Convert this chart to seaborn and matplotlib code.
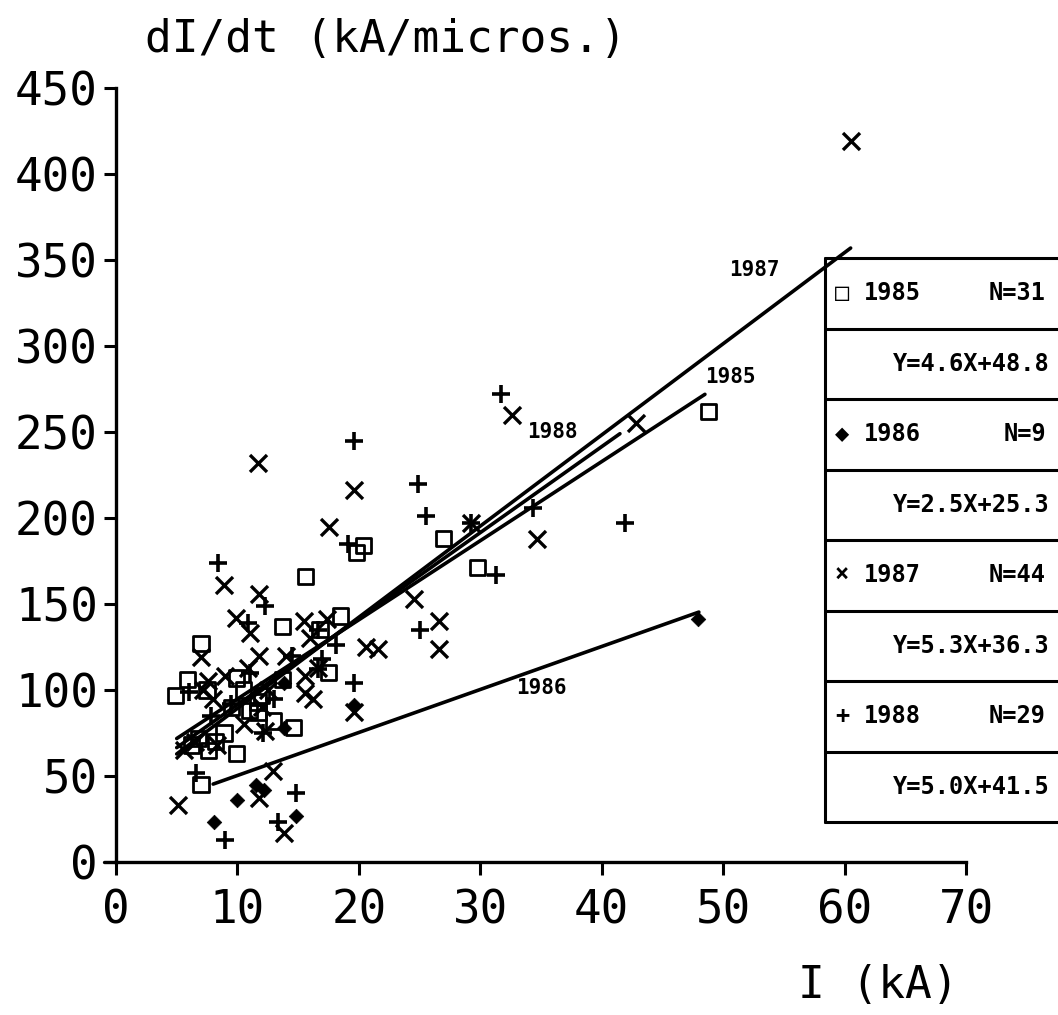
import matplotlib
matplotlib.use("Agg")
import matplotlib.pyplot as plt
import seaborn as sns
import pandas as pd
import numpy as np

sns.set_theme(style="ticks")
plt.rcParams["font.family"] = ["DejaVu Sans Mono", "DejaVu Sans"]

# ---- data: peak current I (kA) and steepness dI/dt (kA/us) per campaign year ----
x_1985 = [48.8, 27.0, 29.8, 19.8, 20.4, 15.6, 13.7, 18.5, 7.0, 5.9, 9.9, 4.9,
          11.7, 11.7, 14.6, 8.9, 6.2, 7.6, 9.9, 7.0, 13.7, 6.8, 8.2, 9.5,
          10.5, 12.0, 11.0, 7.5, 16.8, 17.5, 13.0]
y_1985 = [262, 188, 171, 180, 184, 166, 137, 143, 127, 106, 107, 97,
          93, 87, 78, 75, 68, 65, 63, 45, 106, 72, 70, 90,
          100, 97, 88, 100, 135, 110, 82]

x_1986 = [47.9, 13.8, 11.5, 10.0, 14.8, 8.1, 19.6, 13.8, 12.2]
y_1986 = [141, 78, 45, 36, 27, 23, 91, 104, 42]

x_1987 = [60.5, 32.6, 19.6, 42.8, 34.7, 24.5, 26.6, 26.6, 17.5, 15.5, 17.4,
          20.6, 21.6, 15.6, 16.6, 15.6, 8.9, 11.8, 9.9, 11.0, 7.0, 11.8,
          10.9, 7.6, 16.2, 5.6, 12.9, 11.8, 5.1, 13.8, 11.7, 19.6, 29.2,
          12.3, 8.0, 9.0, 6.5, 8.3, 10.5, 12.5, 14.0, 16.0, 12.0, 7.2]
y_1987 = [419, 260, 216, 255, 188, 153, 140, 124, 195, 140, 141,
          125, 124, 108, 113, 98, 161, 156, 142, 133, 119, 120,
          113, 105, 95, 65, 53, 37, 33, 17, 232, 87, 197,
          76, 95, 108, 70, 68, 80, 100, 120, 130, 90, 100]

x_1988 = [31.7, 19.6, 24.9, 25.5, 29.2, 31.3, 34.3, 41.9, 25.0, 19.1, 16.6,
          18.1, 16.6, 19.6, 8.4, 12.3, 10.9, 6.0, 12.1, 6.6, 14.8, 9.0,
          13.3, 14.5, 9.5, 7.8, 11.0, 13.0, 17.0]
y_1988 = [272, 245, 220, 201, 197, 167, 206, 197, 135, 185, 135,
          126, 112, 104, 174, 149, 139, 99, 75, 52, 40, 13,
          23, 120, 92, 85, 110, 95, 118]

years = ["1985", "1986", "1987", "1988"]
counts = [31, 9, 44, 29]
slopes = [4.6, 2.5, 5.3, 5.0]
intercepts = [48.8, 25.3, 36.3, 41.5]
fit_start = [5.0, 8.0, 5.0, 5.0]
fit_end = [48.5, 48.0, 60.5, 41.5]
fit_label_xy = [(50.6, 282), (35.0, 101), (52.6, 344), (35.9, 250)]

x_ticks = [0, 10, 20, 30, 40, 50, 60, 70]
y_ticks = [0, 50, 100, 150, 200, 250, 300, 350, 400, 450]

points = pd.concat([
    pd.DataFrame({"I": x_1985, "dIdt": y_1985, "year": "1985"}),
    pd.DataFrame({"I": x_1986, "dIdt": y_1986, "year": "1986"}),
    pd.DataFrame({"I": x_1987, "dIdt": y_1987, "year": "1987"}),
    pd.DataFrame({"I": x_1988, "dIdt": y_1988, "year": "1988"}),
], ignore_index=True)

W, H = 1058, 1015
fig = plt.figure(figsize=(W / 100, H / 100), dpi=100)
fig.patch.set_facecolor("white")
ax = fig.add_axes([116 / W, 1 - 862 / H, (966 - 116) / W, (862 - 88) / H])
ax.set_facecolor("white")

marker_style = {
    "1985": dict(marker="s", s=120, facecolor="none", edgecolor="black", linewidth=2.0),
    "1986": dict(marker="D", s=55, color="black", edgecolor="black", linewidth=0.5),
    "1987": dict(marker="x", s=150, color="black", linewidth=2.4),
    "1988": dict(marker="+", s=170, color="black", linewidth=2.6),
}
for yr in years:
    sub = points[points["year"] == yr]
    sns.scatterplot(data=sub, x="I", y="dIdt", ax=ax, legend=False, zorder=3,
                    **marker_style[yr])

# regression lines over each year's fitted range
for yr, a, b, x0, x1, (lx, ly) in zip(years, slopes, intercepts, fit_start,
                                      fit_end, fit_label_xy):
    xs = np.array([x0, x1])
    line = pd.DataFrame({"I": xs, "dIdt": a * xs + b})
    sns.lineplot(data=line, x="I", y="dIdt", ax=ax, color="black",
                 linewidth=2.6, zorder=2, legend=False)
    ax.text(lx, ly, yr, fontsize=15, fontweight="bold", ha="center",
            va="center", color="black", zorder=4)

ax.set_xlim(0, 70)
ax.set_ylim(0, 450)
ax.set_xticks(x_ticks)
ax.set_yticks(y_ticks)
ax.set_xticklabels([str(v) for v in x_ticks])
ax.set_yticklabels([str(v) for v in y_ticks])
ax.tick_params(axis="both", direction="out", length=9, width=2.2,
               labelsize=33, colors="black")
ax.tick_params(axis="y", pad=4)
ax.tick_params(axis="x", pad=10)
sns.despine(ax=ax)
for side in ("left", "bottom"):
    ax.spines[side].set_linewidth(2.4)
    ax.spines[side].set_color("black")
# the baseline runs a little past the vertical axis
ax.plot([-1.0, 0.0], [0, 0], color="black", linewidth=2.4, clip_on=False)
ax.set_xlabel("")
ax.set_ylabel("")

fig.text(145 / W, 1 - 40 / H, "dI/dt (kA/micros.)", fontsize=32,
         ha="left", va="center", color="black")
fig.text(958 / W, 1 - 985 / H, "I (kA)", fontsize=32,
         ha="right", va="center", color="black")

# key table: one row for the year, one for its fit equation
box_left, box_top, box_bottom = 825, 258, 822
row_h = (box_bottom - box_top) / 8
glyphs = ["\u25a1", "\u25c6", "\u00d7", "+"]
for i, (yr, n, a, b, g) in enumerate(zip(years, counts, slopes, intercepts, glyphs)):
    top = box_top + 2 * i * row_h
    fig.text(842 / W, 1 - (top + row_h / 2) / H, g, fontsize=17,
             fontweight="bold", ha="center", va="center", color="black")
    fig.text(892 / W, 1 - (top + row_h / 2) / H, yr, fontsize=17,
             fontweight="bold", ha="center", va="center", color="black")
    fig.text(1046 / W, 1 - (top + row_h / 2) / H, f"N={n}", fontsize=17,
             fontweight="bold", ha="right", va="center", color="black")
    fig.text(1050 / W, 1 - (top + 1.5 * row_h) / H, f"Y={a:.1f}X+{b:.1f}",
             fontsize=17, fontweight="bold", ha="right", va="center",
             color="black")
for k in range(9):
    yk = box_top + k * row_h
    fig.add_artist(plt.Line2D([box_left / W, 1.0], [1 - yk / H, 1 - yk / H],
                              color="black", linewidth=2.2))
fig.add_artist(plt.Line2D([box_left / W, box_left / W],
                          [1 - box_top / H, 1 - box_bottom / H],
                          color="black", linewidth=2.2))

fig.savefig("out.png", dpi=100, facecolor="white")
